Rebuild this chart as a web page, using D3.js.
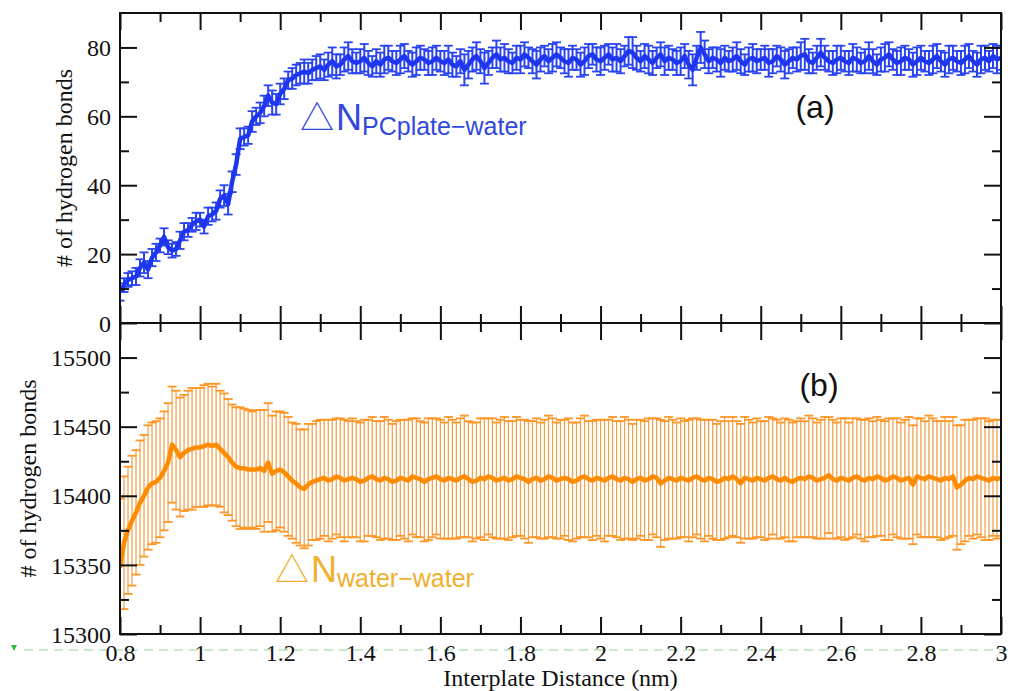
<!DOCTYPE html>
<html><head><meta charset="utf-8">
<script src="https://cdn.jsdelivr.net/npm/d3@7"></script>
<style>html,body{margin:0;padding:0;background:#fff;overflow:hidden;} svg{display:block;}
.serif{font-family:'Liberation Serif','Times New Roman',Times,serif;}
.sans{font-family:'Liberation Sans',Arial,Helvetica,sans-serif;}
</style>
</head><body>
<svg id="chart" width="1013" height="691"></svg>
<script>
// Interplate distance grid (nm): 0.80 .. 3.00 in steps of 0.01
const distanceStart = 0.80;
const distanceStep = 0.01;

// (a) ΔN PCplate-water
const topMean = [
  9, 11, 12.5, 13, 13.5, 16, 17.5, 15.5, 19, 20.5,
  22.5, 25, 22, 21, 21.5, 24, 26.5, 27, 28.5, 29.5,
  30, 28, 31, 31.5, 32.5, 36, 37, 34.5, 41, 46,
  53.5, 54, 54.5, 58.5, 60, 61, 63, 66, 64, 63.5,
  66.5, 68, 70.5, 71, 72, 72.5, 73, 72.5, 73.5, 74,
  74.5, 73.5, 75, 76, 74.5, 75, 76.5, 77.5, 76, 75.5,
  76, 77, 75.5, 74.5, 76, 75, 76.5, 77, 76, 75.5,
  76.5, 77.5, 76, 75, 76, 77, 76.5, 75.5, 76, 77,
  76, 75.5, 76.5, 75, 74.5, 76, 73.5, 75, 76.5, 77.5,
  76, 74, 75.5, 77, 78, 76.5, 77, 76, 75.5, 77,
  76.5, 78, 77, 76, 75, 76.5, 77.5, 76, 77, 78,
  77, 76, 75.5, 77, 76.5, 75, 76, 77.5, 78, 76.5,
  76, 77, 78, 76.5, 77, 76, 77.5, 79, 78.5, 77,
  76, 77.5, 76.5, 75.5, 77, 78, 76, 77, 76.5, 75.5,
  76, 77.5, 75, 73.5, 77, 80, 78, 76, 77, 76.5,
  75.5, 77, 76, 76.5, 77.5, 76, 75, 76.5, 77, 76,
  76.5, 77, 75.5, 76, 77.5, 76.5, 75, 76, 77, 76.5,
  77.5, 78, 76, 75.5, 77, 78.5, 77, 76, 75.5, 76.5,
  77, 76, 75.5, 77, 76.5, 75.5, 76, 77.5, 76, 75,
  76.5, 77, 78, 76.5, 75.5, 76, 77, 76.5, 75, 76,
  77, 76, 75.5, 76.5, 77.5, 76, 75, 76.5, 77, 76,
  75.5, 76.5, 77.5, 76, 75, 76.5, 77, 76, 77.5, 76.5,
  77
];
const topErr = [
  2.5, 2, 2, 2, 2.5, 2.5, 3, 2.5, 2.5, 2.5,
  2, 2.5, 2, 2, 2, 2.5, 2.5, 2, 2, 2.5,
  2, 2, 2.5, 2, 2.5, 2.5, 3, 3, 3, 3,
  3, 2.5, 2.5, 3, 2.5, 3, 3, 3, 3.5, 3,
  3, 3, 2.5, 3, 3, 3, 3.5, 3, 3, 3.5,
  3.5, 3, 3.5, 4, 3.5, 3, 3.5, 4, 3.5, 3,
  3.5, 4, 3.5, 3, 3.5, 3.5, 4, 3.5, 3, 3.5,
  4, 3.5, 3, 3.5, 4, 3.5, 3, 3.5, 4, 3.5,
  3, 3.5, 4, 3.5, 3, 3.5, 4.5, 4, 3.5, 4,
  3.5, 4.5, 3.5, 3, 4, 3.5, 4, 3.5, 3, 3.5,
  4, 3.5, 3, 3.5, 4, 3.5, 3, 3.5, 4, 3.5,
  3, 3.5, 4, 3.5, 3, 3.5, 4, 3.5, 3, 3.5,
  4, 3.5, 3, 3.5, 4, 3.5, 3, 4, 4.5, 3.5,
  3, 3.5, 4, 3.5, 3, 3.5, 4, 3.5, 3, 3.5,
  4, 3.5, 4, 4.5, 3.5, 4.5, 4, 3.5, 3, 3.5,
  4, 3.5, 3, 3.5, 4, 3.5, 3, 3.5, 4, 3.5,
  3, 3.5, 4, 3.5, 3, 3.5, 4, 3.5, 3, 3.5,
  4, 4.5, 3.5, 3, 3.5, 4, 3.5, 3, 3.5, 4,
  3.5, 3, 3.5, 4, 3.5, 3, 3.5, 4, 3.5, 3,
  3.5, 4, 3.5, 3, 3.5, 4, 3.5, 3, 3.5, 4,
  3.5, 3, 3.5, 4, 3.5, 3, 3.5, 4, 3.5, 3,
  3.5, 4, 3.5, 3, 3.5, 4, 3.5, 3, 3.5, 4,
  3.5
];

// (b) ΔN water-water
const bottomMean = [
  15348, 15366, 15375, 15382, 15388, 15395, 15400, 15406, 15409, 15410,
  15413, 15418, 15424, 15437, 15433, 15428, 15431, 15433, 15434, 15435,
  15435, 15436, 15437, 15436, 15437, 15434, 15431, 15428, 15424, 15421,
  15420, 15420, 15419, 15419, 15419, 15420, 15418, 15424, 15416, 15418,
  15419, 15417, 15414, 15411, 15409, 15406, 15405, 15408, 15410, 15411,
  15412, 15413, 15411, 15412, 15414, 15413, 15411, 15412, 15413, 15412,
  15410, 15411, 15413, 15414, 15412, 15411, 15413, 15412, 15410, 15411,
  15413, 15412, 15411, 15414, 15413, 15412, 15410, 15412, 15413, 15414,
  15412, 15411, 15413, 15412, 15411, 15413, 15414, 15412, 15410, 15411,
  15413, 15412, 15414, 15413, 15411, 15412, 15413, 15411, 15412, 15414,
  15413, 15412, 15410, 15412, 15413, 15411, 15412, 15414, 15413, 15411,
  15412, 15413, 15412, 15410, 15411, 15413, 15414, 15412, 15411, 15413,
  15412, 15411, 15413, 15414, 15412, 15411, 15413, 15412, 15410, 15412,
  15413, 15411, 15412, 15414, 15413, 15409, 15411, 15413, 15412, 15411,
  15413, 15412, 15411, 15413, 15414, 15412, 15411, 15413, 15412, 15410,
  15411, 15413, 15412, 15414, 15412, 15409, 15413, 15412, 15411, 15413,
  15412, 15411, 15413, 15414, 15412, 15411, 15413, 15411, 15410, 15412,
  15413, 15412, 15414, 15413, 15411, 15412, 15413, 15415, 15412, 15411,
  15413, 15412, 15411, 15413, 15414, 15412, 15411, 15413, 15412, 15414,
  15413, 15411, 15412, 15414, 15413, 15411, 15412, 15413, 15408, 15414,
  15413, 15412, 15414, 15413, 15412, 15411, 15413, 15412, 15414, 15406,
  15408, 15411, 15413, 15412, 15414, 15413, 15412, 15411, 15413, 15412,
  15413
];
const bottomErr = [
  50, 48, 46, 47, 45, 45, 44, 45, 44, 44,
  43, 43, 43, 42, 43, 43, 42, 43, 44, 43,
  43, 44, 44, 43, 44, 42, 43, 42, 42, 43,
  44, 43, 43, 42, 43, 42, 44, 43, 42, 43,
  42, 43, 43, 42, 43, 42, 43, 44, 42, 43,
  43, 42, 44, 43, 42, 43, 44, 42, 43, 42,
  43, 44, 42, 43, 42, 43, 44, 43, 42, 43,
  42, 43, 44, 42, 43, 42, 43, 44, 43, 42,
  43, 42, 44, 43, 42, 43, 44, 42, 43, 42,
  43, 44, 42, 43, 42, 43, 44, 43, 42, 43,
  42, 43, 44, 42, 43, 42, 43, 44, 43, 42,
  43, 42, 44, 43, 42, 43, 44, 42, 43, 42,
  43, 44, 42, 43, 42, 43, 44, 43, 42, 43,
  42, 43, 44, 42, 43, 46, 43, 44, 43, 42,
  43, 42, 44, 43, 42, 43, 44, 42, 43, 42,
  43, 44, 42, 43, 42, 43, 44, 43, 42, 43,
  42, 43, 44, 42, 43, 42, 43, 44, 43, 42,
  43, 42, 44, 43, 42, 43, 44, 42, 43, 42,
  43, 44, 42, 43, 42, 43, 44, 43, 42, 43,
  42, 43, 44, 42, 43, 42, 43, 44, 43, 42,
  43, 42, 44, 43, 42, 43, 44, 42, 43, 45,
  43, 44, 42, 43, 42, 43, 44, 43, 42, 43,
  42
];

// Ticks and labels
const xMajorTicks = [0.8, 1.0, 1.2, 1.4, 1.6, 1.8, 2.0, 2.2, 2.4, 2.6, 2.8, 3.0];
const xTickLabels = ["0.8", "1", "1.2", "1.4", "1.6", "1.8", "2", "2.2", "2.4", "2.6", "2.8", "3"];
const xMinorTicks = [0.9, 1.1, 1.3, 1.5, 1.7, 1.9, 2.1, 2.3, 2.5, 2.7, 2.9];
const topYMajor = [0, 20, 40, 60, 80];
const topYMinor = [10, 30, 50, 70];
const bottomYMajor = [15300, 15350, 15400, 15450, 15500];
const bottomYMinor = [15325, 15375, 15425, 15475];

const svg = d3.select("#chart");
const L = 120, R = 1001, T = 13, MID = 323, B = 634;
const x = d3.scaleLinear().domain([0.8, 3.0]).range([L, R]);
const yTop = d3.scaleLinear().domain([0, 90]).range([MID, T]);
const yBot = d3.scaleLinear().domain([15300, 15525]).range([B, MID]);

const SERIF = "'Liberation Serif','Times New Roman',Times,serif";
const SANS = "'Liberation Sans',Arial,Helvetica,sans-serif";

// stray green dashed guide along the bottom of the image
svg.append("line").attr("x1", 24).attr("x2", 1013).attr("y1", 650).attr("y2", 650)
  .attr("stroke", "#b6e4bd").attr("stroke-width", 1.5).attr("stroke-dasharray", "9,6");
svg.append("path").attr("d", "M11,645 L17,645 L14,651 Z").attr("fill", "#2fb83a");

const defs = svg.append("defs");
defs.append("clipPath").attr("id", "clipTop").append("rect")
  .attr("x", L).attr("y", T).attr("width", R - L).attr("height", MID - T);
defs.append("clipPath").attr("id", "clipBot").append("rect")
  .attr("x", L).attr("y", MID).attr("width", R - L).attr("height", B - MID);

function panel(mean, err, yScale, clipId, barColor, capColor, lineColor, barW, capW, capHalf, lineW) {
  const pts = mean.map((m, i) => ({ d: distanceStart + i * distanceStep, m: m, e: err[i] }));
  const g = svg.append("g").attr("clip-path", `url(#${clipId})`);
  g.selectAll("line.bar").data(pts).enter().append("line")
    .attr("x1", p => x(p.d)).attr("x2", p => x(p.d))
    .attr("y1", p => yScale(p.m - p.e)).attr("y2", p => yScale(p.m + p.e))
    .attr("stroke", barColor).attr("stroke-width", barW);
  ["lo", "hi"].forEach(k => {
    g.selectAll("line.cap" + k).data(pts).enter().append("line")
      .attr("x1", p => x(p.d) - capHalf).attr("x2", p => x(p.d) + capHalf)
      .attr("y1", p => yScale(k === "lo" ? p.m - p.e : p.m + p.e))
      .attr("y2", p => yScale(k === "lo" ? p.m - p.e : p.m + p.e))
      .attr("stroke", capColor).attr("stroke-width", capW);
  });
  g.append("path").datum(pts)
    .attr("d", d3.line().x(p => x(p.d)).y(p => yScale(p.m)))
    .attr("fill", "none").attr("stroke", lineColor).attr("stroke-width", lineW)
    .attr("stroke-linejoin", "round");
}

panel(topMean, topErr, yTop, "clipTop", "#2a44f2", "#2a44f2", "#1e36f0", 2, 1.8, 4.5, 4.5);
panel(bottomMean, bottomErr, yBot, "clipBot", "#f1a24a", "#ff9626", "#ff8c00", 1.25, 1.8, 4.5, 4.5);

// Axes (inward ticks)
function ticksX(yPos, dir, withLabels) {
  const mk = dir === "up" ? d3.axisBottom(x) : d3.axisTop(x);
  const g = svg.append("g").attr("transform", `translate(0,${yPos})`)
    .call(mk.tickValues(xMajorTicks).tickSizeInner(-17).tickSizeOuter(0)
      .tickFormat((d, i) => withLabels ? xTickLabels[i] : ""));
  const mk2 = dir === "up" ? d3.axisBottom(x) : d3.axisTop(x);
  svg.append("g").attr("transform", `translate(0,${yPos})`)
    .call(mk2.tickValues(xMinorTicks).tickSizeInner(-9).tickSizeOuter(0).tickFormat(""));
  return g;
}
function ticksY(scale, xPos, side, majors, minors, withLabels) {
  const mk = side === "left" ? d3.axisLeft(scale) : d3.axisRight(scale);
  const g = svg.append("g").attr("transform", `translate(${xPos},0)`)
    .call(mk.tickValues(majors).tickSizeInner(-17).tickSizeOuter(0)
      .tickFormat(d => withLabels ? String(d) : ""));
  const mk2 = side === "left" ? d3.axisLeft(scale) : d3.axisRight(scale);
  svg.append("g").attr("transform", `translate(${xPos},0)`)
    .call(mk2.tickValues(minors).tickSizeInner(-9).tickSizeOuter(0).tickFormat(""));
  return g;
}

ticksX(MID, "up", false);
ticksX(T, "down", false);
ticksX(MID, "down", false);
const xb = ticksX(B, "up", true);
const yl1 = ticksY(yTop, L, "left", topYMajor, topYMinor, true);
ticksY(yTop, R, "right", topYMajor, topYMinor, false);
const yl2 = ticksY(yBot, L, "left", bottomYMajor, bottomYMinor, true);
ticksY(yBot, R, "right", bottomYMajor, bottomYMinor, false);

svg.selectAll(".domain").remove();
svg.selectAll("g").attr("font-family", SERIF);
svg.selectAll(".tick line").attr("stroke", "#111").attr("stroke-width", 2);
svg.selectAll(".tick text").attr("class", "serif").style("font-family", SERIF)
  .style("font-size", "24px").attr("fill", "#111");
xb.selectAll(".tick text").attr("y", 0).attr("dy", "27px");
[yl1, yl2].forEach(g => g.selectAll(".tick text").attr("x", -9).attr("dy", "0.34em"));

// frames
[[T, MID], [MID, B]].forEach(([a, b]) => {
  svg.append("rect").attr("x", L).attr("y", a).attr("width", R - L).attr("height", b - a)
    .attr("fill", "none").attr("stroke", "#111").attr("stroke-width", 2);
});

// axis titles
svg.append("text").attr("class", "serif").attr("x", (L + R) / 2).attr("y", 686).attr("text-anchor", "middle")
  .style("font-family", SERIF).style("font-size", "24px").attr("fill", "#111").text("Interplate Distance (nm)");
svg.append("text").attr("class", "serif").attr("transform", `translate(72,${(T + MID) / 2}) rotate(-90)`)
  .attr("text-anchor", "middle").style("font-family", SERIF).style("font-size", "24px").attr("fill", "#111")
  .text("# of hydrogen bonds");
svg.append("text").attr("class", "serif").attr("transform", `translate(36,${(MID + B) / 2}) rotate(-90)`)
  .attr("text-anchor", "middle").style("font-family", SERIF).style("font-size", "24px").attr("fill", "#111")
  .text("# of hydrogen bonds");

// panel letters
svg.append("text").attr("x", 815).attr("y", 118).attr("text-anchor", "middle")
  .style("font-family", SANS).style("font-size", "32px").attr("fill", "#111").text("(a)");
svg.append("text").attr("x", 819).attr("y", 396).attr("text-anchor", "middle")
  .style("font-family", SANS).style("font-size", "32px").attr("fill", "#111").text("(b)");

// series annotations
function annot(xPos, yBase, sub, color) {
  const t = svg.append("text").attr("x", xPos).attr("y", yBase).attr("fill", color).style("font-family", SANS);
  t.append("tspan").style("font-family", "'Noto Sans CJK KR','DejaVu Sans',sans-serif").style("font-size", "34px").text("△");
  t.append("tspan").style("font-size", "36px").attr("dx", 2).text("N");
  t.append("tspan").style("font-size", "25px").attr("dy", 5).text(sub);
}
annot(300, 130, "PCplate−water", "#3148de");
annot(275, 582, "water−water", "#f0b02e");
</script>
</body></html>
